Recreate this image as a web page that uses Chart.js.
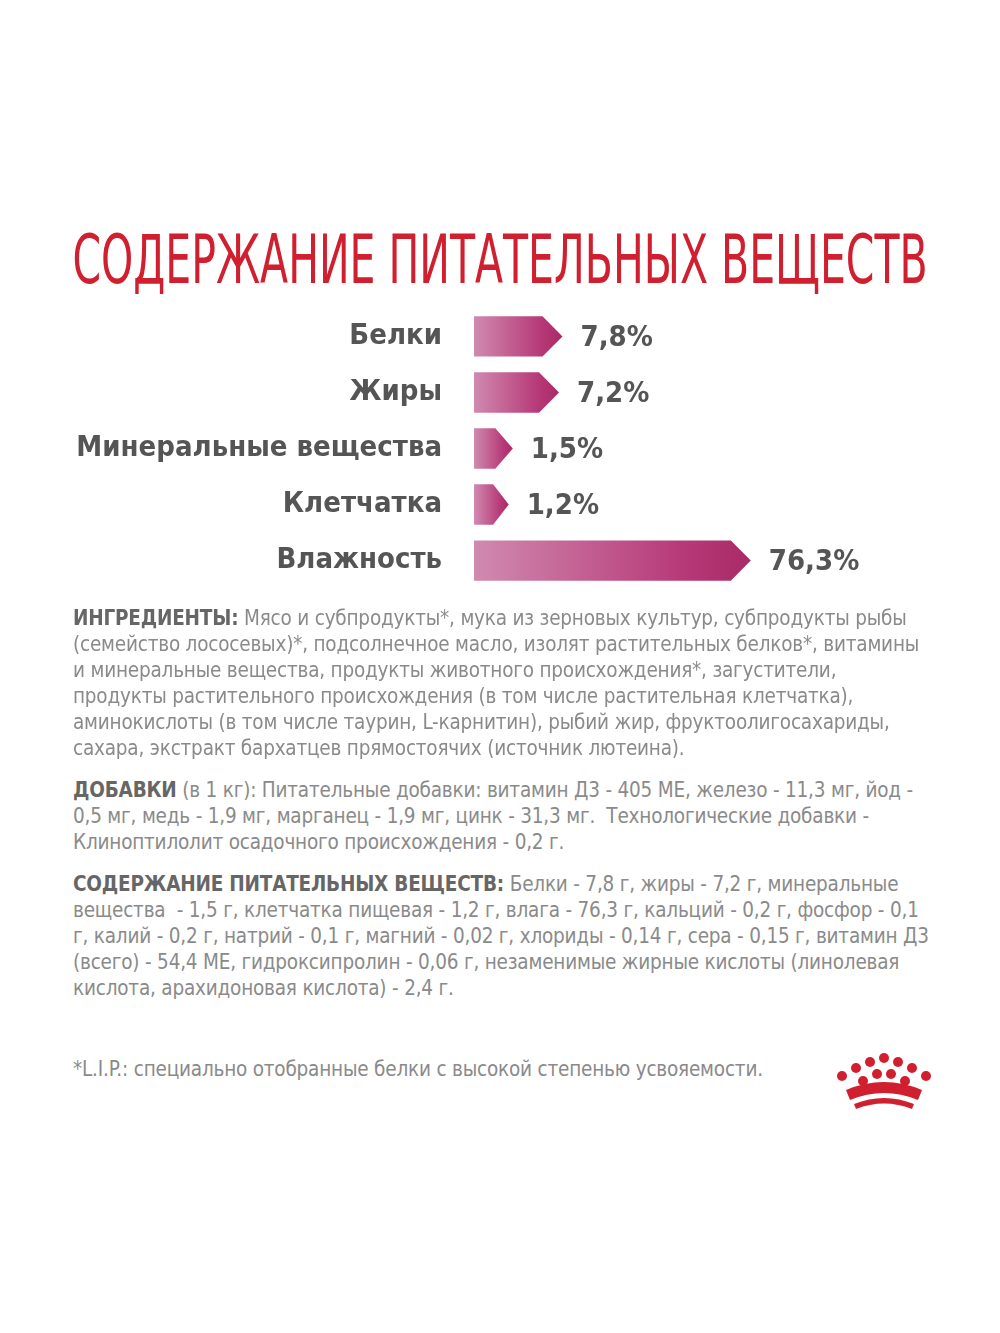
<!DOCTYPE html>
<html>
<head>
<meta charset="utf-8">
<script src="https://cdn.jsdelivr.net/npm/chart.js@4.4.1/dist/chart.umd.min.js"></script>
<style>
  body { margin: 0; background: #fff; width: 1000px; height: 1333px; position: relative; overflow: hidden;
         font-family: "DejaVu Sans Condensed", sans-serif; }
  h1 { position: absolute; left: -200px; top: 220px; width: 1400px; margin: 0; text-align: center; white-space: nowrap;
       color: #d0202f; font-weight: normal; font-size: 68px;
       font-family: "DejaVu Sans Condensed", sans-serif; transform: scaleX(0.67); transform-origin: 700px 0; }
  #wrap { position: absolute; left: 0; top: 267px; width: 1000px; height: 363px; }
  .txt { position: absolute; left: 73px; width: 862px; color: #8a8a8a; font-size: 20.5px; line-height: 26px;
         font-family: "DejaVu Sans Condensed", sans-serif; letter-spacing: -0.2px; }
  .txt b { color: #666; }
  #crown { position: absolute; left: 832px; top: 1052px; }
</style>
</head>
<body>
<h1>СОДЕРЖАНИЕ ПИТАТЕЛЬНЫХ ВЕЩЕСТВ</h1>
<div id="wrap"><canvas id="chart" width="1000" height="363"></canvas></div>

<div class="txt" style="top:605px"><b>ИНГРЕДИЕНТЫ:</b> Мясо и субпродукты*, мука из зерновых культур, субпродукты рыбы (семейство лососевых)*, подсолнечное масло, изолят растительных белков*, витамины и минеральные вещества, продукты животного происхождения*, загустители, продукты растительного происхождения (в том числе растительная клетчатка), аминокислоты (в том числе таурин, L-карнитин), рыбий жир, фруктоолигосахариды, сахара, экстракт бархатцев прямостоячих (источник лютеина).</div>
<div class="txt" style="top:777px"><b>ДОБАВКИ</b> (в 1 кг): Питательные добавки: витамин Д3 - 405 МЕ, железо - 11,3 мг, йод - 0,5 мг, медь - 1,9 мг, марганец - 1,9 мг, цинк - 31,3 мг.&nbsp; Технологические добавки - Клиноптилолит осадочного происхождения - 0,2 г.</div>
<div class="txt" style="top:871px"><b>СОДЕРЖАНИЕ ПИТАТЕЛЬНЫХ ВЕЩЕСТВ:</b> Белки - 7,8 г, жиры - 7,2 г, минеральные вещества&nbsp; - 1,5 г, клетчатка пищевая - 1,2 г, влага - 76,3 г, кальций - 0,2 г, фосфор - 0,1 г, калий - 0,2 г, натрий - 0,1 г, магний - 0,02 г, хлориды - 0,14 г, сера - 0,15 г, витамин Д3 (всего) - 54,4 МЕ, гидроксипролин - 0,06 г, незаменимые жирные кислоты (линолевая кислота, арахидоновая кислота) - 2,4 г.</div>
<div class="txt" style="top:1056px">*L.I.P.: специально отобранные белки с высокой степенью усвояемости.</div>

<svg id="crown" width="105" height="60" viewBox="0 0 105 60">
  <g fill="#d0202f">
    <circle cx="52" cy="6" r="5"/><circle cx="38" cy="10" r="5"/><circle cx="66" cy="10" r="5"/>
    <circle cx="24" cy="16" r="5"/><circle cx="80" cy="16" r="5"/><circle cx="10" cy="24" r="5"/><circle cx="94" cy="24" r="5"/>
    <circle cx="45" cy="22" r="5"/><circle cx="59" cy="22" r="5"/><circle cx="31" cy="29" r="5"/><circle cx="73" cy="29" r="5"/>
    <path d="M14 38 Q52 22 90 38 L86 48 Q52 34 18 48 Z"/>
    <path d="M22 52 Q52 40 82 52 L80 57 Q52 46 24 57 Z"/>
  </g>
</svg>

<script>
// nutrient data
const categories = ['Белки', 'Жиры', 'Минеральные вещества', 'Клетчатка', 'Влажность'];
const percents = [7.8, 7.2, 1.5, 1.2, 76.3];
const valueLabels = ['7,8%', '7,2%', '1,5%', '1,2%', '76,3%'];

// bars in the picture are on a square-root scale
const barValues = percents.map(v => Math.sqrt(v));

//arrow bars with gradient + value labels
const arrowBars = {
    id: 'arrowBars',
    afterDatasetsDraw(chart) {
        const ctx = chart.ctx;
        const meta = chart.getDatasetMeta(0);
        meta.data.forEach((bar, i) => {
            const x0 = bar.base, x1 = bar.x, h = bar.height;
            const top = bar.y - h / 2, bot = bar.y + h / 2;
            const tip = Math.min(20, (x1 - x0) * 0.45);
            const g = ctx.createLinearGradient(x0, 0, x1, 0);
            g.addColorStop(0, '#d08ab0');
            g.addColorStop(0.75, '#b73a78');
            g.addColorStop(1, '#a82a66');
            ctx.save();
            ctx.beginPath();
            ctx.moveTo(x0, top);
            ctx.lineTo(x1 - tip, top);
            ctx.lineTo(x1, bar.y);
            ctx.lineTo(x1 - tip, bot);
            ctx.lineTo(x0, bot);
            ctx.closePath();
            ctx.fillStyle = g;
            ctx.fill();
            ctx.fillStyle = '#555';
            ctx.font = 'bold 29px "DejaVu Sans Condensed", sans-serif';
            ctx.textBaseline = 'middle';
            ctx.fillText(valueLabels[i], x1 + 18, bar.y + 2);
            ctx.restore();
        });
    }
};

new Chart(document.getElementById('chart'), {
    type: 'bar',
    data: {
        labels: categories,
        datasets: [{
            data: barValues,
            backgroundColor: 'rgba(0,0,0,0)',
            borderWidth: 0,
            categoryPercentage: 1,
            barPercentage: 0.72
        }]
    },
    options: {
        indexAxis: 'y',
        responsive: false,
        animation: { duration: 0 },
        layout: { padding: 0 },
        plugins: { legend: { display: false }, tooltip: { enabled: false } },
        scales: {
            x: { display: false, min: 0, max: 16.6 },
            y: {
                grid: { display: false },
                border: { display: false },
                afterFit: s => { s.width = 474; },
                ticks: {
                    color: '#555',
                    padding: 24,
                    font: { family: '"DejaVu Sans Condensed", sans-serif', size: 29, weight: 'bold' }
                }
            }
        }
    },
    plugins: [arrowBars]
});
</script>
</body>
</html>
